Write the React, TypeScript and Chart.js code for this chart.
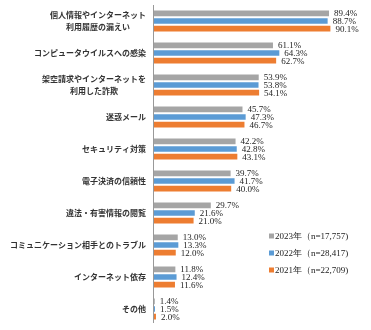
import React, { useEffect, useRef } from "react";
import { Chart, registerables } from "chart.js";

Chart.register(...registerables);

const categories: string[][] = [
  ["個人情報やインターネット", "利用履歴の漏えい"],
  ["コンピュータウイルスへの感染"],
  ["架空請求やインターネットを", "利用した詐欺"],
  ["迷惑メール"],
  ["セキュリティ対策"],
  ["電子決済の信頼性"],
  ["違法・有害情報の閲覧"],
  ["コミュニケーション相手とのトラブル"],
  ["インターネット依存"],
  ["その他"],
];
const values2023 = [89.4, 61.1, 53.9, 45.7, 42.2, 39.7, 29.7, 13.0, 11.8, 1.4];
const values2022 = [88.7, 64.3, 53.8, 47.3, 42.8, 41.7, 21.6, 13.3, 12.4, 1.5];
const values2021 = [90.1, 62.7, 54.1, 46.7, 43.1, 40.0, 21.0, 12.0, 11.6, 2.0];
const seriesLabels = ["2023年（n=17,757)", "2022年（n=28,417)", "2021年（n=22,709)"];
const seriesColors = ["#A5A5A5", "#5B9BD5", "#ED7D31"];

const customPlugin = {
  id: "customDraw",
  afterDatasetsDraw(chart: any) {
    const ctx = chart.ctx as CanvasRenderingContext2D;
    const area = chart.chartArea;
    const yScale = chart.scales.y;
    ctx.save();
    // axis line
    ctx.strokeStyle = "#999999";
    ctx.lineWidth = 1;
    ctx.beginPath();
    ctx.moveTo(Math.round(area.left) + 0.5, area.top);
    ctx.lineTo(Math.round(area.left) + 0.5, area.bottom - 2);
    ctx.stroke();

    // category labels
    ctx.font = 'bold 8px "Noto Sans CJK JP"';
    ctx.fillStyle = "#333333";
    ctx.textBaseline = "middle";
    ctx.textAlign = "center";
    categories.forEach((lines, i) => {
      const cy = yScale.getPixelForValue(i);
      const w = Math.max(...lines.map((l) => ctx.measureText(l).width));
      const cx = area.left - 7 - w / 2;
      const lh = 12;
      lines.forEach((l, j) => {
        ctx.fillText(l, cx, cy + (j - (lines.length - 1) / 2) * lh);
      });
    });

    // data labels
    ctx.font = '9px "Liberation Serif"';
    ctx.textAlign = "left";
    ctx.fillStyle = "#222222";
    chart.data.datasets.forEach((ds: any, di: number) => {
      const meta = chart.getDatasetMeta(di);
      meta.data.forEach((bar: any, i: number) => {
        ctx.fillText(Number(ds.data[i]).toFixed(1) + "%", bar.x + 4, bar.y + 0.5);
      });
    });

    // legend
    const lx = area.left + 116;
    const ly0 = area.top + 231;
    const gap = 17;
    seriesLabels.forEach((lab, k) => {
      const y = ly0 + k * gap;
      ctx.fillStyle = seriesColors[k];
      ctx.fillRect(lx, y - 2.5, 5, 5);
      ctx.fillStyle = "#222222";
      ctx.font = '9px "Liberation Serif"';
      ctx.fillText(lab, lx + 6, y + 0.5);
    });
    ctx.restore();
  },
};

export default function App() {
  const ref = useRef<HTMLCanvasElement | null>(null);
  useEffect(() => {
    document.body.style.margin = "0";
    const canvas = ref.current;
    if (!canvas) return;
    const mk = (label: string, data: number[], color: string) => ({
      label,
      data,
      backgroundColor: color,
      borderColor: "#ffffff",
      borderWidth: 1,
      borderSkipped: false as any,
      categoryPercentage: 0.72,
      barPercentage: 1.0,
    });
    const chart = new Chart(canvas, {
      type: "bar",
      data: {
        labels: categories.map((c) => c.join("")),
        datasets: [
          mk(seriesLabels[0], values2023, seriesColors[0]),
          mk(seriesLabels[1], values2022, seriesColors[1]),
          mk(seriesLabels[2], values2021, seriesColors[2]),
        ],
      },
      options: {
        indexAxis: "y",
        animation: false,
        responsive: false,
        devicePixelRatio: 1,
        layout: { padding: { left: 153, right: 20, top: 5, bottom: 5 } },
        scales: {
          x: { display: false, min: 0, max: 100 },
          y: { display: false },
        },
        plugins: {
          legend: { display: false },
          tooltip: { enabled: false },
        },
      },
      plugins: [customPlugin],
    });
    return () => chart.destroy();
  }, []);
  return (
    <div style={{ width: 371, height: 330, background: "#fff" }}>
      <canvas ref={ref} width={371} height={330} style={{ display: "block" }} />
    </div>
  );
}
